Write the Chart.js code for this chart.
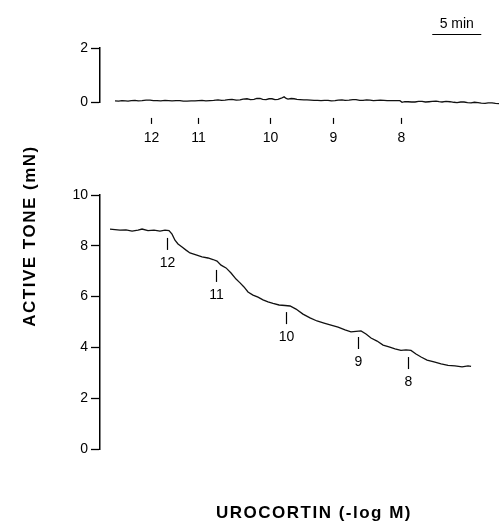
<!DOCTYPE html>
<html>
<head>
<meta charset="utf-8">
<script src="https://cdn.jsdelivr.net/npm/chart.js@4.4.1/dist/chart.umd.min.js"></script>
<style>
  html, body { margin: 0; padding: 0; background: #fff; }
  #wrap { position: relative; width: 499px; height: 522px; }
  #wrap canvas { position: absolute; left: 0; top: 0; }
</style>
</head>
<body>
<div id="wrap">
  <canvas id="timeControl" width="499" height="522"></canvas>
  <canvas id="urocortin" width="499" height="522"></canvas>
</div>
<script>
// time control trace (min, mN)
const controlTime = [1.53, 1.9, 2.24, 2.6, 2.86, 3.2, 3.57, 3.9, 4.29, 4.7, 5.10, 5.45, 5.82, 6.2, 6.63, 7.0, 7.35, 7.75,
  8.16, 8.5, 8.88, 9.3, 9.69, 10.05, 10.41, 10.8, 11.22, 11.6, 12.04, 12.4, 12.76, 13.1, 13.47, 13.9, 14.29, 14.6,
  15.00, 15.35, 15.71, 16.0, 16.33, 16.6, 16.94, 17.25, 17.55, 17.85, 18.16, 18.5, 18.78, 19.0, 19.18, 19.5, 19.80,
  20.1, 20.41, 20.8, 21.12, 21.5, 21.84, 22.2, 22.55, 22.9, 23.27, 23.6, 23.98, 24.3, 24.69, 25.0, 25.41, 25.8,
  26.12, 26.5, 26.84, 27.2, 27.55, 27.9, 28.27, 28.6, 28.98, 29.3, 29.69, 30.0, 30.31, 30.6, 30.82, 31.1, 31.43,
  31.8, 32.14, 32.5, 32.86, 33.2, 33.57, 33.9, 34.29, 34.6, 34.90, 35.3, 35.71, 36.1, 36.43, 36.8, 37.14, 37.5,
  37.86, 38.2, 38.57, 38.9, 39.29, 39.6, 40.00, 40.35, 40.71];
const controlTone = [0.04, 0.03, 0.05, 0.04, 0.03, 0.05, 0.06, 0.04, 0.05, 0.07, 0.07, 0.05, 0.05, 0.04, 0.06, 0.05, 0.04, 0.05,
  0.05, 0.03, 0.03, 0.04, 0.04, 0.05, 0.06, 0.04, 0.05, 0.06, 0.08, 0.06, 0.07, 0.09, 0.10, 0.07, 0.08, 0.11,
  0.12, 0.09, 0.10, 0.13, 0.13, 0.10, 0.09, 0.12, 0.12, 0.09, 0.10, 0.14, 0.19, 0.13, 0.11, 0.13, 0.12,
  0.10, 0.09, 0.08, 0.08, 0.07, 0.06, 0.06, 0.05, 0.06, 0.06, 0.04, 0.05, 0.07, 0.08, 0.06, 0.07, 0.09,
  0.09, 0.06, 0.06, 0.08, 0.07, 0.05, 0.06, 0.07, 0.06, 0.05, 0.05, 0.05, 0.05, 0.05, -0.01, 0.01, 0.01,
  0.00, 0.00, 0.02, 0.02, 0.00, 0.01, 0.02, 0.03, 0.01, 0.00, 0.02, 0.01, -0.01, -0.02, 0.00, 0.00, -0.02,
  -0.03, -0.01, -0.02, -0.04, -0.05, -0.03, -0.03, -0.05, -0.06];

// cumulative urocortin trace (min, mN)
const urocortinTime = [1.02, 1.53, 2.04, 2.65, 3.27, 3.88, 4.29, 4.90, 5.51, 6.12, 6.63, 7.04, 7.35, 7.65, 7.96, 8.37,
  8.78, 9.18, 9.80, 10.41, 11.02, 11.53, 11.94, 12.35, 12.86, 13.37, 13.88, 14.29, 14.69, 15.10, 15.61, 16.12,
  16.63, 17.14, 17.65, 18.27, 18.88, 19.39, 20.00, 20.71, 21.43, 22.14, 22.86, 23.57, 24.29, 25.00, 25.61, 26.12,
  26.63, 27.14, 27.65, 28.27, 28.88, 29.49, 30.10, 30.71, 31.22, 31.73, 32.24, 32.76, 33.37, 34.08, 34.80, 35.51,
  36.22, 36.94, 37.55, 37.86];
const urocortinTone = [8.66, 8.64, 8.62, 8.63, 8.58, 8.62, 8.66, 8.60, 8.62, 8.58, 8.62, 8.60, 8.46, 8.22, 8.07, 7.95,
  7.83, 7.72, 7.64, 7.56, 7.52, 7.46, 7.40, 7.24, 7.13, 6.93, 6.69, 6.54, 6.38, 6.18, 6.06, 5.98,
  5.87, 5.79, 5.73, 5.67, 5.65, 5.63, 5.51, 5.31, 5.16, 5.04, 4.96, 4.88, 4.80, 4.69, 4.61, 4.63,
  4.65, 4.53, 4.37, 4.25, 4.09, 4.02, 3.94, 3.88, 3.90, 3.88, 3.74, 3.62, 3.50, 3.43, 3.35, 3.29,
  3.27, 3.23, 3.27, 3.25];

// dose additions (-log M)
const doseLabels = ['12', '11', '10', '9', '8'];
const controlDoseTime = [5.2, 10.0, 17.35, 23.8, 30.7];
const controlDoseTop = [-0.59, -0.59, -0.59, -0.59, -0.59];
const urocortinDoseTime = [6.84, 11.84, 18.98, 26.33, 31.43];
const urocortinDoseTop = [8.31, 7.05, 5.39, 4.41, 3.62];

const FONT = '"Liberation Sans", Arial, Helvetica, sans-serif';

const toPoints = (xs, ys) => xs.map((x, i) => ({ x: x, y: ys[i] }));

const doseMarks = {
  id: 'doseMarks',
  afterDatasetsDraw(chart, args, opts) {
    const { ctx, scales: { x, y } } = chart;
    ctx.save();
    ctx.strokeStyle = '#000';
    ctx.fillStyle = '#000';
    ctx.lineWidth = 1.2;
    ctx.font = '14px ' + FONT;
    ctx.textAlign = 'center';
    ctx.textBaseline = 'middle';
    opts.times.forEach((t, i) => {
      const px = Math.round(x.getPixelForValue(t)) + 0.5;
      const top = y.getPixelForValue(opts.tops[i]);
      ctx.beginPath();
      ctx.moveTo(px, top);
      ctx.lineTo(px, top + opts.len);
      ctx.stroke();
      ctx.fillText(doseLabels[i], px, top + opts.len + opts.gap);
    });
    if (opts.scaleBar) {
      // 5 min calibration bar
      const x0 = x.getPixelForValue(33.9), x1 = x.getPixelForValue(38.9);
      const yb = Math.round(y.getPixelForValue(2.52)) + 0.5;
      ctx.beginPath();
      ctx.moveTo(x0, yb);
      ctx.lineTo(x1, yb);
      ctx.stroke();
      ctx.fillText('5 min', (x0 + x1) / 2, yb - 10);
    }
    if (opts.titles) {
      ctx.font = 'bold 17px ' + FONT;
      ctx.letterSpacing = '1.5px';
      ctx.textBaseline = 'alphabetic';
      ctx.fillText('UROCORTIN (-log M)', 314, 518);
      ctx.translate(35, 236);
      ctx.rotate(-Math.PI / 2);
      ctx.fillText('ACTIVE TONE (mN)', 0, 0);
    }
    ctx.restore();
  }
};

const yAxis = (max, step) => ({
  min: 0,
  max: max,
  afterFit: (scale) => { scale.width = 100; },
  border: { color: '#000', width: 1.5 },
  grid: { drawOnChartArea: false, drawTicks: true, tickLength: 9, tickColor: '#000', tickWidth: 1.3 },
  ticks: { stepSize: step, padding: 3, color: '#000', font: { family: FONT, size: 14 } }
});

const makeChart = (id, xs, ys, padTop, padBottom, yMax, yStep, marks) => new Chart(document.getElementById(id), {
  type: 'line',
  data: {
    datasets: [{
      data: toPoints(xs, ys),
      borderColor: '#111',
      borderWidth: 1.3,
      pointRadius: 0,
      tension: 0,
      clip: false
    }]
  },
  options: {
    responsive: false,
    animation: false,
    events: [],
    layout: { padding: { top: padTop, bottom: padBottom, left: 0, right: 0 } },
    scales: {
      x: { type: 'linear', min: 0, max: 40.71, display: false },
      y: yAxis(yMax, yStep)
    },
    plugins: {
      legend: { display: false },
      tooltip: { enabled: false },
      doseMarks: marks
    }
  },
  plugins: [doseMarks]
});

makeChart('timeControl', controlTime, controlTone, 48, 420, 2, 2,
  { times: controlDoseTime, tops: controlDoseTop, len: 6, gap: 14, scaleBar: true });
makeChart('urocortin', urocortinTime, urocortinTone, 195, 73, 10, 2,
  { times: urocortinDoseTime, tops: urocortinDoseTop, len: 12, gap: 13, titles: true });
</script>
</body>
</html>
